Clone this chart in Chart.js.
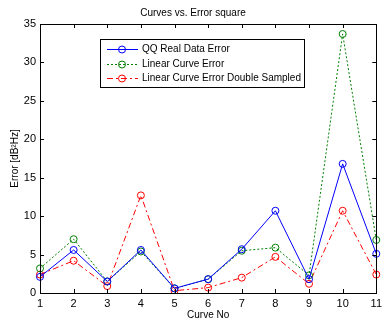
<!DOCTYPE html>
<html>
<head>
<meta charset="utf-8">
<script src="https://cdn.jsdelivr.net/npm/chart.js@4/dist/chart.umd.min.js"></script>
<style>
  html, body { margin: 0; padding: 0; background: #fff; overflow: hidden; }
  #wrap { width: 386px; height: 324px; }
</style>
</head>
<body>
<div id="wrap"><canvas id="chartCurves" width="386" height="324"></canvas></div>
<script>
// curve numbers on the x axis
const curveNo = ['1', '2', '3', '4', '5', '6', '7', '8', '9', '10', '11'];

// error values
const qqRealError = [2.1, 5.6, 1.5, 5.6, 0.6, 1.8, 5.7, 10.7, 1.8, 16.8, 5.1];
const linearError = [3.2, 7.0, 1.5, 5.4, 0.6, 1.8, 5.5, 5.9, 2.3, 33.7, 6.9];
const linearDoubleError = [2.4, 4.2, 0.9, 12.7, 0.3, 0.7, 2.0, 4.7, 1.2, 10.7, 2.4];

const yTicks = [0, 5, 10, 15, 20, 25, 30, 35];

const FONT = 'Arial, "Liberation Sans", Helvetica, sans-serif';

// matlab style frame: box all round, ticks pointing inward
const boxTicks = {
    id: 'boxTicks',
    afterDatasetsDraw(chart) {
        const { ctx, chartArea: a, scales } = chart;
        const len = 4;
        ctx.save();
        ctx.strokeStyle = '#000';
        ctx.lineWidth = 1;
        ctx.strokeRect(Math.round(a.left) + 0.5, Math.round(a.top) + 0.5,
            Math.round(a.right - a.left), Math.round(a.bottom - a.top));
        ctx.beginPath();
        curveNo.forEach((c, i) => {
            const x = Math.round(scales.x.getPixelForValue(i)) + 0.5;
            ctx.moveTo(x, a.bottom); ctx.lineTo(x, a.bottom - len);
            ctx.moveTo(x, a.top); ctx.lineTo(x, a.top + len);
        });
        yTicks.forEach(v => {
            const y = Math.round(scales.y.getPixelForValue(v)) + 0.5;
            ctx.moveTo(a.left, y); ctx.lineTo(a.left + len, y);
            ctx.moveTo(a.right, y); ctx.lineTo(a.right - len, y);
        });
        ctx.stroke();
        ctx.restore();
    },
};

// legend box drawn inside the axes
const boxLegend = {
    id: 'boxLegend',
    afterDraw(chart) {
        const { ctx } = chart;
        const x0 = 100.5, y0 = 39.5, w = 204, h = 48;
        ctx.save();
        ctx.fillStyle = '#fff';
        ctx.fillRect(x0, y0, w, h);
        ctx.strokeStyle = '#000';
        ctx.lineWidth = 1;
        ctx.strokeRect(x0, y0, w, h);
        ctx.font = '10px ' + FONT;
        ctx.textBaseline = 'middle';
        chart.data.datasets.forEach((ds, i) => {
            const y = Math.round(49 + i * 14.5) + 0.5;
            ctx.strokeStyle = ds.borderColor;
            ctx.setLineDash(ds.borderDash || []);
            ctx.beginPath();
            ctx.moveTo(107, y);
            ctx.lineTo(138, y);
            ctx.stroke();
            ctx.setLineDash([]);
            ctx.beginPath();
            ctx.arc(122, y, 3.5, 0, Math.PI * 2);
            ctx.stroke();
            ctx.fillStyle = '#000';
            ctx.fillText(ds.label, 142, y);
        });
        ctx.restore();
    },
};

const ctx = document.getElementById('chartCurves').getContext('2d');

new Chart(ctx, {
    type: 'line',
    data: {
        labels: curveNo,
        datasets: [{
            label: 'QQ Real Data Error',
            data: qqRealError,
            borderColor: '#0000ff',
            borderDash: [],
        }, {
            label: 'Linear Curve Error',
            data: linearError,
            borderColor: '#008000',
            borderDash: [2, 2],
        }, {
            label: 'Linear Curve Error Double Sampled',
            data: linearDoubleError,
            borderColor: '#ff0000',
            borderDash: [6, 3, 2, 3],
        }].map(ds => ({
            ...ds,
            borderWidth: 1,
            tension: 0,
            fill: false,
            pointStyle: 'circle',
            pointRadius: 3.5,
            pointBorderWidth: 1,
            pointBorderColor: ds.borderColor,
            pointBackgroundColor: 'rgba(0,0,0,0)',
        })),
    },
    options: {
        responsive: false,
        animation: false,
        layout: { padding: 0 },
        plugins: {
            legend: { display: false },
            tooltip: { enabled: false },
            title: {
                display: true,
                text: 'Curves vs. Error square',
                color: '#000',
                font: { family: FONT, size: 10, weight: 'normal' },
                padding: { top: 7, bottom: 5 },
            },
        },
        scales: {
            x: {
                type: 'category',
                offset: false,
                grid: { display: false, drawTicks: false },
                border: { display: false },
                ticks: {
                    color: '#000',
                    font: { family: FONT, size: 11 },
                    padding: 4,
                    maxRotation: 0,
                    autoSkip: false,
                },
                title: {
                    display: true,
                    text: 'Curve No',
                    color: '#000',
                    font: { family: FONT, size: 10 },
                    padding: { top: 0, bottom: 3 },
                },
                afterFit(scale) { scale.height = 31; },
            },
            y: {
                min: 0,
                max: 35,
                grid: { display: false, drawTicks: false },
                border: { display: false },
                ticks: {
                    stepSize: 5,
                    color: '#000',
                    font: { family: FONT, size: 11 },
                    padding: 4,
                },
                title: {
                    display: true,
                    text: 'Error [dB²Hz]',
                    color: '#000',
                    font: { family: FONT, size: 10 },
                    padding: { top: 9, bottom: 0 },
                },
                afterFit(scale) { scale.width = 40; },
            },
        },
    },
    plugins: [boxTicks, boxLegend],
});
</script>
</body>
</html>
